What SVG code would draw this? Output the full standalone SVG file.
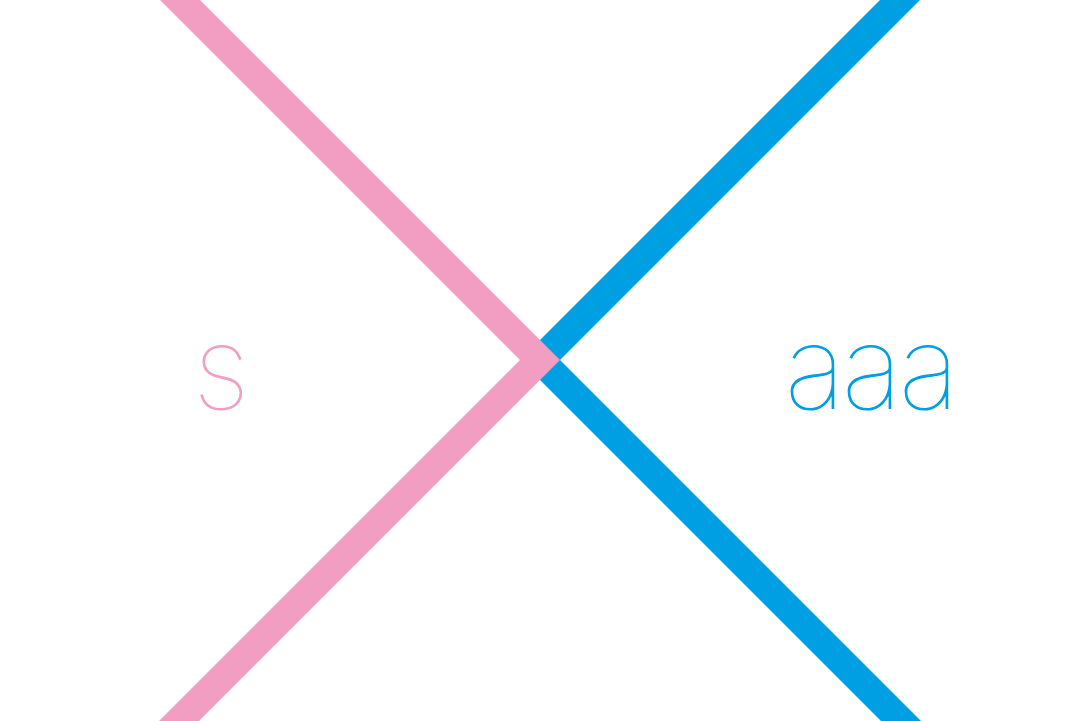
<svg xmlns="http://www.w3.org/2000/svg" width="1080" height="721" viewBox="0 0 1080 721">
<style>
.pink{fill:#F19EC2}
.blue{fill:#009FE3}
.t{font-family:Inter,Lato,"Liberation Sans",sans-serif;font-weight:100;font-size:116px}
</style>
<rect width="1080" height="721" fill="#fff"/>
<g id="connectors">
<polygon id="blue-chevron" class="blue" points="890,-10 930,-10 560,360 930,730 890,730 520,360"/>
<polygon id="pink-chevron" class="pink" points="150,-10 190,-10 560,360 190,730 150,730 520,360"/>
</g>
<g id="node-s"><text class="t" x="221" y="409" text-anchor="middle" fill="#F19EC2">s</text></g>
<g id="node-aaa"><text class="t" x="870" y="409" text-anchor="middle" fill="#009FE3" letter-spacing="-4">aaa</text></g>
</svg>
